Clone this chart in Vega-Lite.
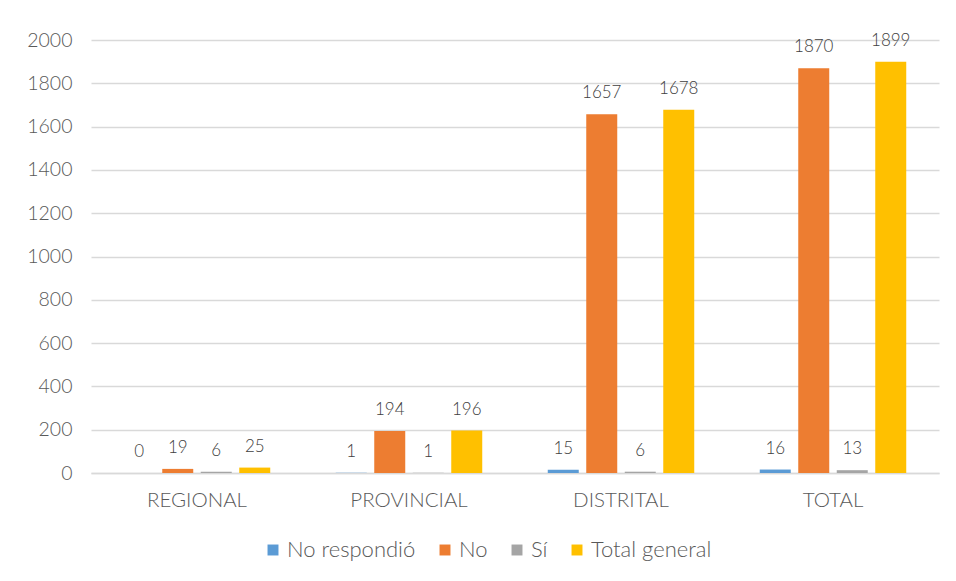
{
  "$schema": "https://vega.github.io/schema/vega-lite/v6.json",
  "width": 848,
  "height": 433,
  "autosize": {"type": "none"},
  "padding": {"left": 91, "top": 40, "right": 17, "bottom": 108},
  "background": "white",
  "config": {
    "view": {"stroke": null},
    "font": "Lato",
    "text": {"font": "Lato"}
  },
  "data": {
    "values": [
      {"nivel": "REGIONAL", "serie": "No respondió", "valor": 0},
      {"nivel": "REGIONAL", "serie": "No", "valor": 19},
      {"nivel": "REGIONAL", "serie": "Sí", "valor": 6},
      {"nivel": "REGIONAL", "serie": "Total general", "valor": 25},
      {"nivel": "PROVINCIAL", "serie": "No respondió", "valor": 1},
      {"nivel": "PROVINCIAL", "serie": "No", "valor": 194},
      {"nivel": "PROVINCIAL", "serie": "Sí", "valor": 1},
      {"nivel": "PROVINCIAL", "serie": "Total general", "valor": 196},
      {"nivel": "DISTRITAL", "serie": "No respondió", "valor": 15},
      {"nivel": "DISTRITAL", "serie": "No", "valor": 1657},
      {"nivel": "DISTRITAL", "serie": "Sí", "valor": 6},
      {"nivel": "DISTRITAL", "serie": "Total general", "valor": 1678},
      {"nivel": "TOTAL", "serie": "No respondió", "valor": 16},
      {"nivel": "TOTAL", "serie": "No", "valor": 1870},
      {"nivel": "TOTAL", "serie": "Sí", "valor": 13},
      {"nivel": "TOTAL", "serie": "Total general", "valor": 1899}
    ]
  },
  "encoding": {
    "x": {
      "field": "nivel",
      "type": "nominal",
      "sort": ["REGIONAL", "PROVINCIAL", "DISTRITAL", "TOTAL"],
      "scale": {"paddingInner": 0.309, "paddingOuter": 0.1545},
      "axis": {
        "title": null,
        "labelAngle": 0,
        "labelFont": "Lato",
        "labelFontSize": 20.5,
        "labelFontWeight": 300,
        "labelColor": "#595959",
        "labelPadding": 17,
        "ticks": false,
        "domainColor": "#d9d9d9",
        "domainWidth": 1.5
      }
    },
    "xOffset": {
      "field": "serie",
      "type": "nominal",
      "sort": ["No respondió", "No", "Sí", "Total general"],
      "scale": {"paddingInner": 0.195, "paddingOuter": 0}
    },
    "y": {
      "field": "valor",
      "type": "quantitative",
      "scale": {"domain": [0, 2000], "nice": false},
      "axis": {
        "title": null,
        "format": "d",
        "values": [0, 200, 400, 600, 800, 1000, 1200, 1400, 1600, 1800, 2000],
        "labelFont": "Lato",
        "labelFontSize": 19.5,
        "labelFontWeight": 300,
        "labelColor": "#595959",
        "labelPadding": 19,
        "ticks": false,
        "domain": false,
        "gridColor": "#d9d9d9",
        "gridWidth": 1.5
      }
    }
  },
  "layer": [
    {
      "mark": {"type": "bar"},
      "encoding": {
        "color": {
          "field": "serie",
          "type": "nominal",
          "sort": ["No respondió", "No", "Sí", "Total general"],
          "scale": {
            "domain": ["No respondió", "No", "Sí", "Total general"],
            "range": ["#5B9BD5", "#ED7D31", "#A5A5A5", "#FFC000"]
          },
          "legend": {
            "title": null,
            "orient": "none",
            "direction": "horizontal",
            "legendX": 171,
            "legendY": 499,
            "symbolType": "square",
            "symbolSize": 120,
            "symbolStrokeWidth": 0,
            "labelFont": "Lato",
            "labelFontSize": 22,
            "labelFontWeight": 300,
            "labelColor": "#595959",
            "labelOffset": 3,
            "columnPadding": 18
          }
        }
      }
    },
    {
      "mark": {
        "type": "text",
        "baseline": "alphabetic",
        "dy": -16,
        "font": "Lato",
        "fontSize": 17,
        "fontWeight": 300,
        "color": "#404040"
      },
      "encoding": {
        "text": {"field": "valor", "type": "quantitative"}
      }
    }
  ]
}
